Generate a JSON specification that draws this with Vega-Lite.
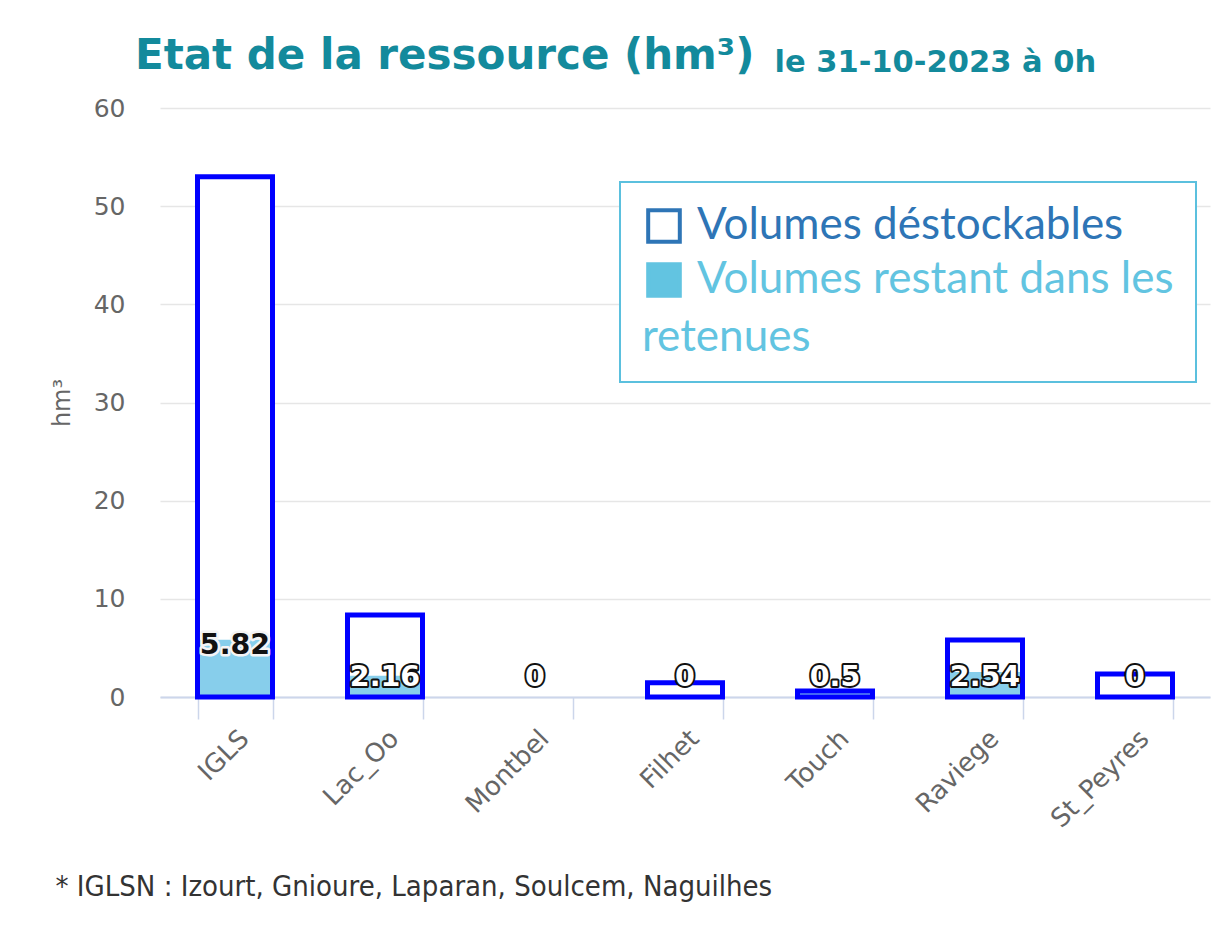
{
  "$schema": "https://vega.github.io/schema/vega-lite/v6.json",
  "width": 1050,
  "height": 589,
  "autosize": {"type": "none"},
  "padding": {"left": 160, "top": 108, "right": 1, "bottom": 241},
  "background": "white",
  "title": {
    "text": "Etat de la ressource (hm³)",
    "anchor": "start",
    "frame": "group",
    "dx": -25,
    "dy": 46,
    "offset": 15,
    "font": "DejaVu Sans",
    "fontSize": 42,
    "fontWeight": "bold",
    "color": "#138a9c"
  },
  "data": {
    "values": [
      {"nom": "IGLS", "capacite": 53.0, "restant": 5.82},
      {"nom": "Lac_Oo", "capacite": 8.35, "restant": 2.16},
      {"nom": "Montbel", "capacite": 0, "restant": 0},
      {"nom": "Filhet", "capacite": 1.45, "restant": 0},
      {"nom": "Touch", "capacite": 0.6, "restant": 0.5},
      {"nom": "Raviege", "capacite": 5.8, "restant": 2.54},
      {"nom": "St_Peyres", "capacite": 2.35, "restant": 0}
    ]
  },
  "resolve": {"axis": {"x": "independent"}},
  "layer": [
    {
      "mark": {"type": "bar", "fill": "white"},
      "encoding": {
        "x": {"field": "nom", "type": "nominal", "sort": null, "scale": {"paddingInner": 0.5, "paddingOuter": 0.25},
          "axis": {"orient": "top", "labels": false, "ticks": false, "domain": false, "grid": false,
            "title": "le 31-10-2023 à 0h", "titleX": 614, "titleY": -37, "titleAlign": "left", "titleBaseline": "alphabetic", "titleAnchor": "start",
            "titleFont": "DejaVu Sans", "titleFontSize": 30.5, "titleFontWeight": "bold", "titleColor": "#138a9c", "titleAngle": 0}},
        "y": {"field": "capacite", "type": "quantitative", "title": "hm³", "scale": {"domain": [0, 60], "nice": false}}
      }
    },
    {
      "mark": {"type": "bar", "fill": "#87ceeb"},
      "encoding": {
        "x": {"field": "nom", "type": "nominal", "sort": null, "title": "* IGLSN : Izourt, Gnioure, Laparan, Soulcem, Naguilhes"},
        "y": {"field": "restant", "type": "quantitative", "title": "hm³", "scale": {"domain": [0, 60], "nice": false}}
      }
    },
    {
      "transform": [{"filter": "datum.capacite > 0"}],
      "mark": {"type": "bar", "filled": false, "stroke": "#0000ff", "strokeWidth": 5},
      "encoding": {
        "x": {"field": "nom", "type": "nominal", "sort": null, "axis": null},
        "y": {"field": "capacite", "type": "quantitative", "title": "hm³", "scale": {"domain": [0, 60], "nice": false}}
      }
    },
    {
      "transform": [{"filter": "datum.restant >= 3"}],
      "mark": {"type": "text", "font": "DejaVu Sans", "fontSize": 28.5, "fontWeight": "bold", "fill": "#f4f4f4", "stroke": "#f4f4f4", "strokeWidth": 5, "strokeJoin": "round", "dy": 5},
      "encoding": {
        "x": {"field": "nom", "type": "nominal", "sort": null, "axis": null},
        "y": {"field": "restant", "type": "quantitative", "title": "hm³", "scale": {"domain": [0, 60], "nice": false}},
        "text": {"field": "restant", "type": "quantitative"}
      }
    },
    {
      "transform": [{"filter": "datum.restant >= 3"}],
      "mark": {"type": "text", "font": "DejaVu Sans", "fontSize": 28.5, "fontWeight": "bold", "fill": "#111111", "dy": 5},
      "encoding": {
        "x": {"field": "nom", "type": "nominal", "sort": null, "axis": null},
        "y": {"field": "restant", "type": "quantitative", "title": "hm³", "scale": {"domain": [0, 60], "nice": false}},
        "text": {"field": "restant", "type": "quantitative"}
      }
    },
    {
      "transform": [{"filter": "datum.restant < 3"}],
      "mark": {"type": "text", "font": "DejaVu Sans", "fontSize": 28.5, "fontWeight": "bold", "fill": "#111111", "stroke": "#111111", "strokeWidth": 4, "strokeJoin": "round"},
      "encoding": {
        "x": {"field": "nom", "type": "nominal", "sort": null, "axis": null},
        "y": {"datum": 2, "type": "quantitative", "title": "hm³", "scale": {"domain": [0, 60], "nice": false}},
        "text": {"field": "restant", "type": "quantitative"}
      }
    },
    {
      "transform": [{"filter": "datum.restant < 3"}],
      "mark": {"type": "text", "font": "DejaVu Sans", "fontSize": 28.5, "fontWeight": "bold", "fill": "white"},
      "encoding": {
        "x": {"field": "nom", "type": "nominal", "sort": null, "axis": null},
        "y": {"datum": 2, "type": "quantitative", "title": "hm³", "scale": {"domain": [0, 60], "nice": false}},
        "text": {"field": "restant", "type": "quantitative"}
      }
    },
    {
      "data": {"values": [{"serie": "Volumes déstockables"}, {"serie": "Volumes restant dans les retenues"}]},
      "mark": {"type": "square", "opacity": 0},
      "encoding": {
        "fill": {
          "field": "serie", "type": "nominal",
          "scale": {"domain": ["Volumes déstockables", "Volumes restant dans les retenues"], "range": ["white", "#62c4e1"]},
          "legend": {
            "orient": "none", "legendX": 460, "legendY": 74,
            "title": "retenues", "titleOrient": "bottom", "titleAnchor": "start",
            "titleColor": "#62c4e1", "titleFont": "Lato", "titleFontSize": 44, "titleFontWeight": "normal", "titlePadding": 12,
            "labelFont": "Lato", "labelFontSize": 44, "labelLimit": 700, "labelOffset": 11,
            "labelColor": {"expr": "datum.value === 'Volumes déstockables' ? '#2e75b6' : '#62c4e1'"},
            "labelExpr": "datum.value === 'Volumes restant dans les retenues' ? 'Volumes restant dans les' : datum.label",
            "symbolType": "square", "symbolSize": 1000, "symbolStrokeWidth": 4, "symbolOpacity": 1,
            "rowPadding": 6, "padding": 22, "strokeColor": "#5bc0de", "fillColor": "white"
          }
        },
        "stroke": {
          "field": "serie", "type": "nominal",
          "scale": {"domain": ["Volumes déstockables", "Volumes restant dans les retenues"], "range": ["#2e75b6", "#62c4e1"]},
          "legend": {
            "orient": "none", "legendX": 460, "legendY": 74,
            "title": "retenues", "titleOrient": "bottom", "titleAnchor": "start",
            "titleColor": "#62c4e1", "titleFont": "Lato", "titleFontSize": 44, "titleFontWeight": "normal", "titlePadding": 12,
            "labelFont": "Lato", "labelFontSize": 44, "labelLimit": 700, "labelOffset": 11,
            "labelColor": {"expr": "datum.value === 'Volumes déstockables' ? '#2e75b6' : '#62c4e1'"},
            "labelExpr": "datum.value === 'Volumes restant dans les retenues' ? 'Volumes restant dans les' : datum.label",
            "symbolType": "square", "symbolSize": 1000, "symbolStrokeWidth": 4, "symbolOpacity": 1,
            "rowPadding": 6, "padding": 22, "strokeColor": "#5bc0de", "fillColor": "white"
          }
        }
      }
    }
  ],
  "config": {
    "font": "DejaVu Sans",
    "view": {"stroke": null},
    "legend": {"strokeWidth": 2},
    "axisY": {
      "grid": true, "gridColor": "#e6e6e6", "gridWidth": 1.5,
      "domain": false, "ticks": false, "tickCount": 6,
      "labelColor": "#666666", "labelFontSize": 25, "labelPadding": 35,
      "titleColor": "#666666", "titleFontSize": 24, "titleFontWeight": "normal",
      "titleX": -98, "titleY": 294.5, "titleBaseline": "middle", "titleAlign": "center", "titleAngle": -90
    },
    "axisX": {
      "labelAngle": -45, "labelColor": "#666666", "labelFontSize": 26, "labelPadding": 6,
      "domainColor": "#ccd6eb", "domainWidth": 2,
      "tickColor": "#ccd6eb", "tickWidth": 1.5, "tickSize": 22, "tickBand": "extent",
      "grid": false,
      "titleColor": "#333333", "titleFont": "DejaVu Sans Condensed", "titleFontSize": 29, "titleFontWeight": "normal",
      "titleX": -105, "titleY": 189, "titleAlign": "left", "titleBaseline": "middle", "titleAnchor": "start"
    }
  }
}
